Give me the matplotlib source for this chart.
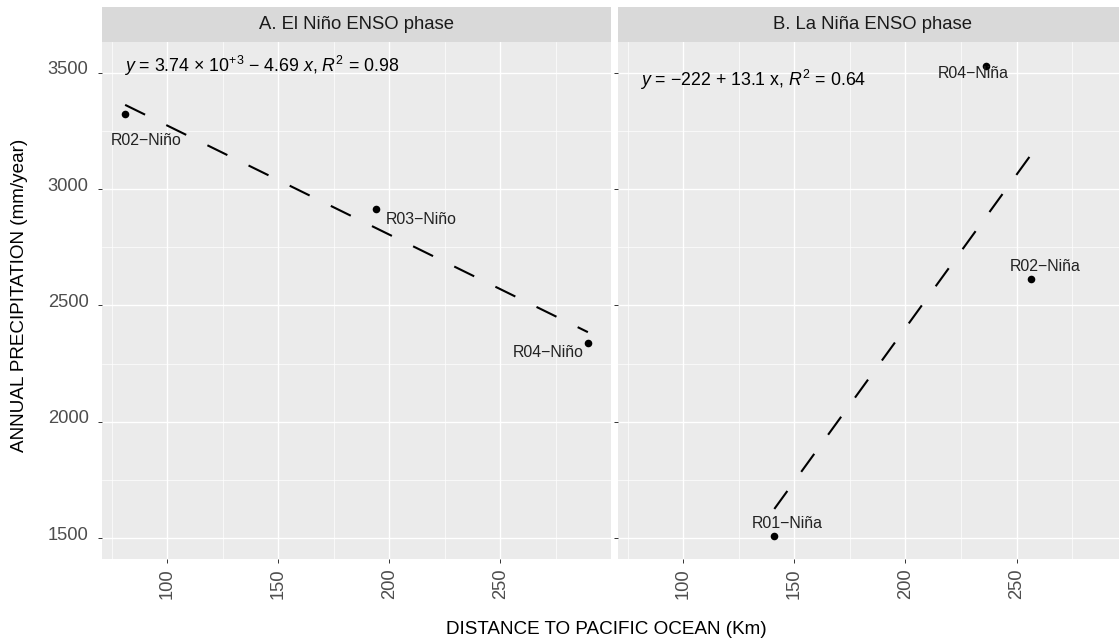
import matplotlib
matplotlib.use('Agg')
import matplotlib.pyplot as plt
import numpy as np
from matplotlib.transforms import ScaledTranslation

plt.rcParams['font.family'] = ['Liberation Sans', 'DejaVu Sans']
plt.rcParams['mathtext.fontset'] = 'custom'
plt.rcParams['mathtext.rm'] = 'Liberation Sans'
plt.rcParams['mathtext.it'] = 'Liberation Sans:italic'
plt.rcParams['mathtext.bf'] = 'Liberation Sans:bold'
plt.rcParams['lines.scale_dashes'] = False

# ---------------- data ----------------
nino_x = [81.1, 194.3, 289.5]
nino_y = [3324, 2914, 2340]
nino_labels = ["R02\u2212Niño", "R03\u2212Niño", "R04\u2212Niño"]

nina_x = [141.0, 236.3, 256.6]
nina_y = [1511, 3531, 2614]
nina_labels = ["R01\u2212Niña", "R04\u2212Niña", "R02\u2212Niña"]

panel_titles = ["A. El Niño ENSO phase", "B. La Niña ENSO phase"]
equations = [r"$y$ = 3.74 × 10$^{+3}$ − 4.69 $x$, $R^2$ = 0.98",
             r"$y$ = −222 + 13.1 x, $R^2$ = 0.64"]

x_major = [100, 150, 200, 250]
x_minor = [75, 125, 175, 225, 275]
y_major = [1500, 2000, 2500, 3000, 3500]
y_minor = [1750, 2250, 2750, 3250]

# ---------------- layout ----------------
W, H = 1119, 642
fig = plt.figure(figsize=(W / 100, H / 100), dpi=100)
fig.patch.set_facecolor('white')


def px_axes(l, t, r, b):
    return fig.add_axes([l / W, 1 - b / H, (r - l) / W, (b - t) / H])


all_x = nino_x + nina_x
all_y = nino_y + nina_y
xr = max(all_x) - min(all_x)
yr = max(all_y) - min(all_y)
xlim = (min(all_x) - 0.05 * xr, max(all_x) + 0.05 * xr)
ylim = (min(all_y) - 0.05 * yr, max(all_y) + 0.05 * yr)

panels = [(102, 611), (618, 1127.6)]
series = [(nino_x, nino_y, nino_labels), (nina_x, nina_y, nina_labels)]

label_offsets = [
    [(14.9, -19.2), (32.0, -7.6), (-28.8, -7.2)],
    [(9.6, 8.6), (-9.1, -5.8), (9.9, 8.6)],
]
eq_pos = [(0.044, 0.953), (0.044, 0.926)]

for i, ((l, r), (xs, ys, labs)) in enumerate(zip(panels, series)):
    ax = px_axes(l, 42, r, 559)
    ax.set_facecolor('#EBEBEB')
    for s in ax.spines.values():
        s.set_visible(False)
    ax.set_xlim(xlim)
    ax.set_ylim(ylim)
    ax.set_xticks(x_major)
    ax.set_xticks(x_minor, minor=True)
    ax.set_yticks(y_major)
    ax.set_yticks(y_minor, minor=True)
    ax.grid(which='major', color='white', lw=1.0)
    ax.grid(which='minor', color='white', lw=0.5)
    ax.set_axisbelow(True)
    ax.tick_params(which='minor', length=0)
    ax.tick_params(which='major', length=3.2, width=0.7, color='#333333',
                   labelcolor='#4D4D4D', labelsize=13.2)
    ax.tick_params(axis='y', pad=6.5)
    ax.tick_params(axis='x', pad=3.5, labelrotation=90)
    for lab in ax.get_yticklabels():
        lab.set_transform(lab.get_transform() + ScaledTranslation(0, 5 / 100, fig.dpi_scale_trans))

    if i == 1:
        ax.tick_params(axis='y', labelleft=False)

    # regression line
    slope, intercept = np.polyfit(xs, ys, 1)
    lx = np.array([min(xs), max(xs)])
    ax.plot(lx, intercept + slope * lx, color='black', lw=1.5, dashes=(16, 17),
            solid_capstyle='butt', dash_capstyle='butt')

    ax.scatter(xs, ys, s=30, color='black', zorder=3, linewidths=0)
    for x, y, t, (dx, dy) in zip(xs, ys, labs, label_offsets[i]):
        ax.annotate(t, (x, y), xytext=(dx, dy), textcoords='offset points',
                    ha='center', va='center', fontsize=11.4, color='#222222')

    ax.text(eq_pos[i][0], eq_pos[i][1], equations[i], transform=ax.transAxes,
            ha='left', va='center', fontsize=12.8, color='black')

    st = px_axes(l, 7, r, 42)
    st.set_facecolor('#D9D9D9')
    st.set_xticks([])
    st.set_yticks([])
    for s in st.spines.values():
        s.set_visible(False)
    st.text(0.5, 0.5, panel_titles[i], transform=st.transAxes, ha='center',
            va='center', fontsize=13.3, color='#1A1A1A')

fig.text(606 / W, 1 - 630 / H, "DISTANCE TO PACIFIC OCEAN (Km)", ha='center',
         va='center', fontsize=13.6, color='black')
fig.text(20 / W, 1 - 295 / H, "ANNUAL PRECIPITATION (mm/year)", ha='center',
         va='center', rotation=90, fontsize=13.6, color='black')

fig.savefig('out.png', dpi=100)
